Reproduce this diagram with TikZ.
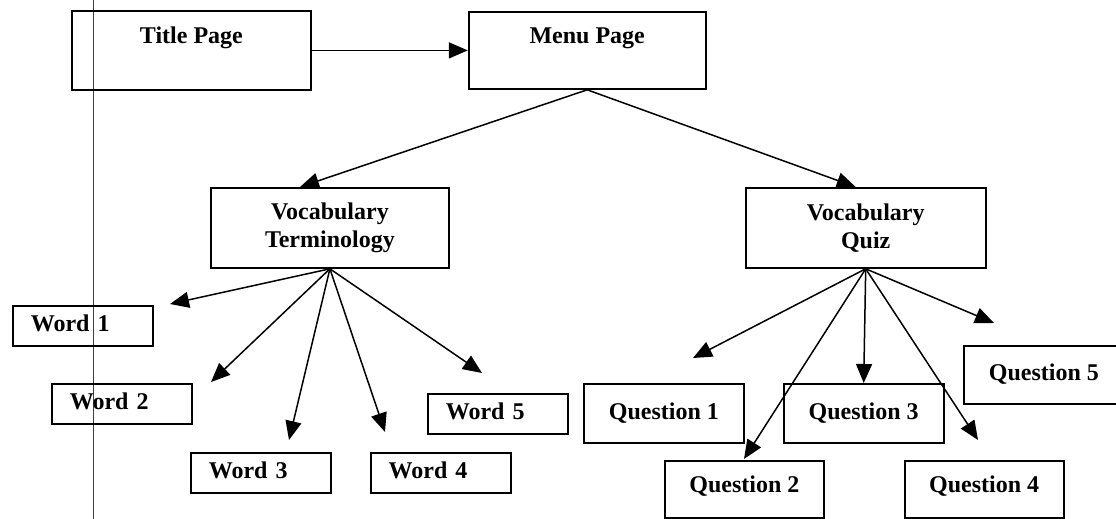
\documentclass[tikz,border=0pt]{standalone}
\usepackage{fontspec}
\setmainfont{Liberation Serif}
\usetikzlibrary{arrows.meta}
\usetikzlibrary{positioning}

\tikzset{
  box/.style={draw, line width=1.8pt, inner sep=0pt, align=center,
    font=\fontsize{24}{28}\selectfont\bfseries},
  wordbox/.style={box, minimum height=40pt, text width=104pt, inner xsep=18pt,
    align=left, text height=17pt, text depth=5pt},
  qbox/.style={box, minimum width=160pt, minimum height=59pt,
    text height=17pt, text depth=5pt},
  link/.style={line width=1.5pt, -{Triangle[length=19pt,width=16pt]}},
}

\begin{document}
\begin{tikzpicture}[x=1pt, y=-1pt]
  \useasboundingbox (0,0) rectangle (1116,519);
  \draw[line width=0.8pt, black!75] (93,0) -- (93,519);

  % top row
  \node[box, anchor=north west, minimum width=239pt, text height=33pt, text depth=46pt]
    (title) at (71,10) {Title Page};
  \node[box, right=156pt of title, minimum width=237pt, text height=32pt, text depth=45pt]
    (menu) {Menu Page};

  % second row
  \node[box, anchor=north west, minimum width=238pt, minimum height=80pt]
    (vterm) at (210,187) {Vocabulary\\Terminology};
  \node[box, right=295pt of vterm, minimum width=240pt, minimum height=80pt]
    (vquiz) {Vocabulary\\Quiz};

  % words
  \node[wordbox, anchor=north west] (w1) at (12,305) {Word 1};
  \node[wordbox, anchor=north west] (w2) at (51,383) {Word 2};
  \node[wordbox, anchor=north west] (w3) at (190,452) {Word 3};
  \node[wordbox, right=38pt of w3] (w4) {Word 4};
  \node[wordbox, anchor=north west] (w5) at (427,393) {Word 5};

  % questions
  \node[qbox, anchor=north west] (q1) at (583,383) {Question 1};
  \node[qbox, right=38pt of q1] (q3) {Question 3};
  \node[qbox, anchor=north west, minimum width=159pt, minimum height=0pt,
    text height=32pt, text depth=25pt] (q2) at (664,460) {Question 2};
  \node[qbox, right=79pt of q2, minimum width=159pt, minimum height=0pt,
    text height=32pt, text depth=25pt] (q4) {Question 4};
  \node[qbox, anchor=north west, minimum height=58pt] (q5) at (963,345) {Question 5};

  % free arrow ends
  \coordinate (tw1) at (170,304);
  \coordinate (tw2) at (211,382);
  \coordinate (tw3) at (289,440);
  \coordinate (tw4) at (385,432);
  \coordinate (tw5) at (482,373);
  \coordinate (tq1) at (693,358);
  \coordinate (tq2) at (744,459);
  \coordinate (tq4) at (978,440);
  \coordinate (tq5) at (994,323);

  \draw[link] (title) -- (menu);
  \draw[link] (menu.south) -- ([xshift=90pt]vterm.north west);
  \draw[link] (menu.south) -- ([xshift=-10pt]vquiz.north);

  \foreach \t in {tw1,tw2,tw3,tw4,tw5}
    \draw[link] (vterm.south) -- (\t);
  \foreach \t in {tq1,tq2,tq4,tq5}
    \draw[link] (vquiz.south) -- (\t);
  \draw[link] (vquiz.south) -- (q3.north);
\end{tikzpicture}
\end{document}
